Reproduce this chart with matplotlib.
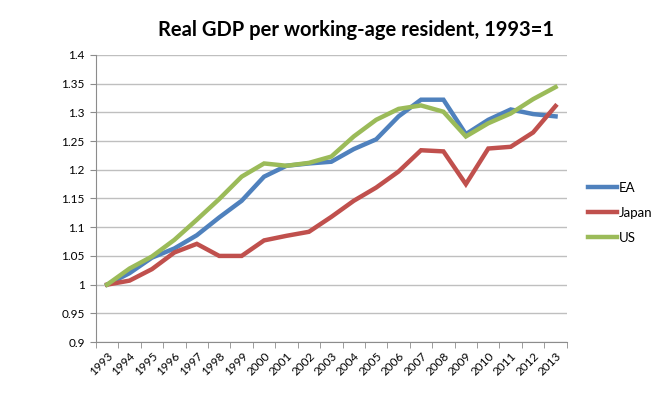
import matplotlib.pyplot as plt
import numpy as np

years = [str(y) for y in range(1993, 2014)]
ea = [1.000, 1.020, 1.047, 1.063, 1.086, 1.117, 1.146, 1.188, 1.207, 1.211, 1.214,
      1.236, 1.253, 1.293, 1.322, 1.322, 1.262, 1.287, 1.305, 1.297, 1.293]
japan = [1.000, 1.007, 1.027, 1.056, 1.071, 1.050, 1.050, 1.077, 1.085, 1.092, 1.118,
         1.146, 1.169, 1.197, 1.234, 1.232, 1.175, 1.237, 1.240, 1.265, 1.311]
us = [1.000, 1.028, 1.049, 1.078, 1.113, 1.149, 1.188, 1.211, 1.207, 1.212, 1.223,
      1.258, 1.287, 1.306, 1.312, 1.301, 1.258, 1.281, 1.298, 1.323, 1.344]

series = [("EA", ea, "#4F81BD"), ("Japan", japan, "#C0504D"), ("US", us, "#9BBB59")]

plt.rcParams["font.family"] = ["Lato", "DejaVu Sans"]

fig = plt.figure(figsize=(6.66, 3.95), dpi=100)
ax = fig.add_axes([0.144, 0.134, 0.707, 0.727])

x = np.arange(len(years))
for name, vals, color in series:
    ax.plot(x, vals, color=color, lw=3.2, label=name, solid_joinstyle="miter")

ax.set_xlim(-0.5, len(years) - 0.5)
ax.set_ylim(0.9, 1.4)
yt = np.arange(0.9, 1.401, 0.05)
ax.set_yticks(yt)
ax.set_yticklabels([f"{v:g}" for v in np.round(yt, 2)], fontsize=8.5)
ax.yaxis.grid(True, color="#BFBFBF", lw=1)
ax.set_axisbelow(True)

ax.set_xticks(x)
ax.set_xticklabels(years, rotation=45, ha="right", rotation_mode="anchor", fontsize=8.5)
ax.set_xticks(np.arange(-0.5, len(years)), minor=True)
ax.tick_params(axis="x", which="major", length=0, pad=6)
ax.tick_params(axis="x", which="minor", length=4, color="#8C8C8C")
ax.tick_params(axis="y", length=4, color="#8C8C8C", pad=4)

for s in ["top", "right"]:
    ax.spines[s].set_visible(False)
for s in ["left", "bottom"]:
    ax.spines[s].set_color("#8C8C8C")

fig.text(0.535, 0.925, "Real GDP per working-age resident, 1993=1",
         ha="center", va="center", fontsize=14.5, fontweight="bold")

ax.legend(loc="center left", bbox_to_anchor=(1.02, 0.45), frameon=False,
          fontsize=9.5, handlelength=2.2, handletextpad=0.1, labelspacing=1.0)

fig.savefig("out.png", dpi=100)
